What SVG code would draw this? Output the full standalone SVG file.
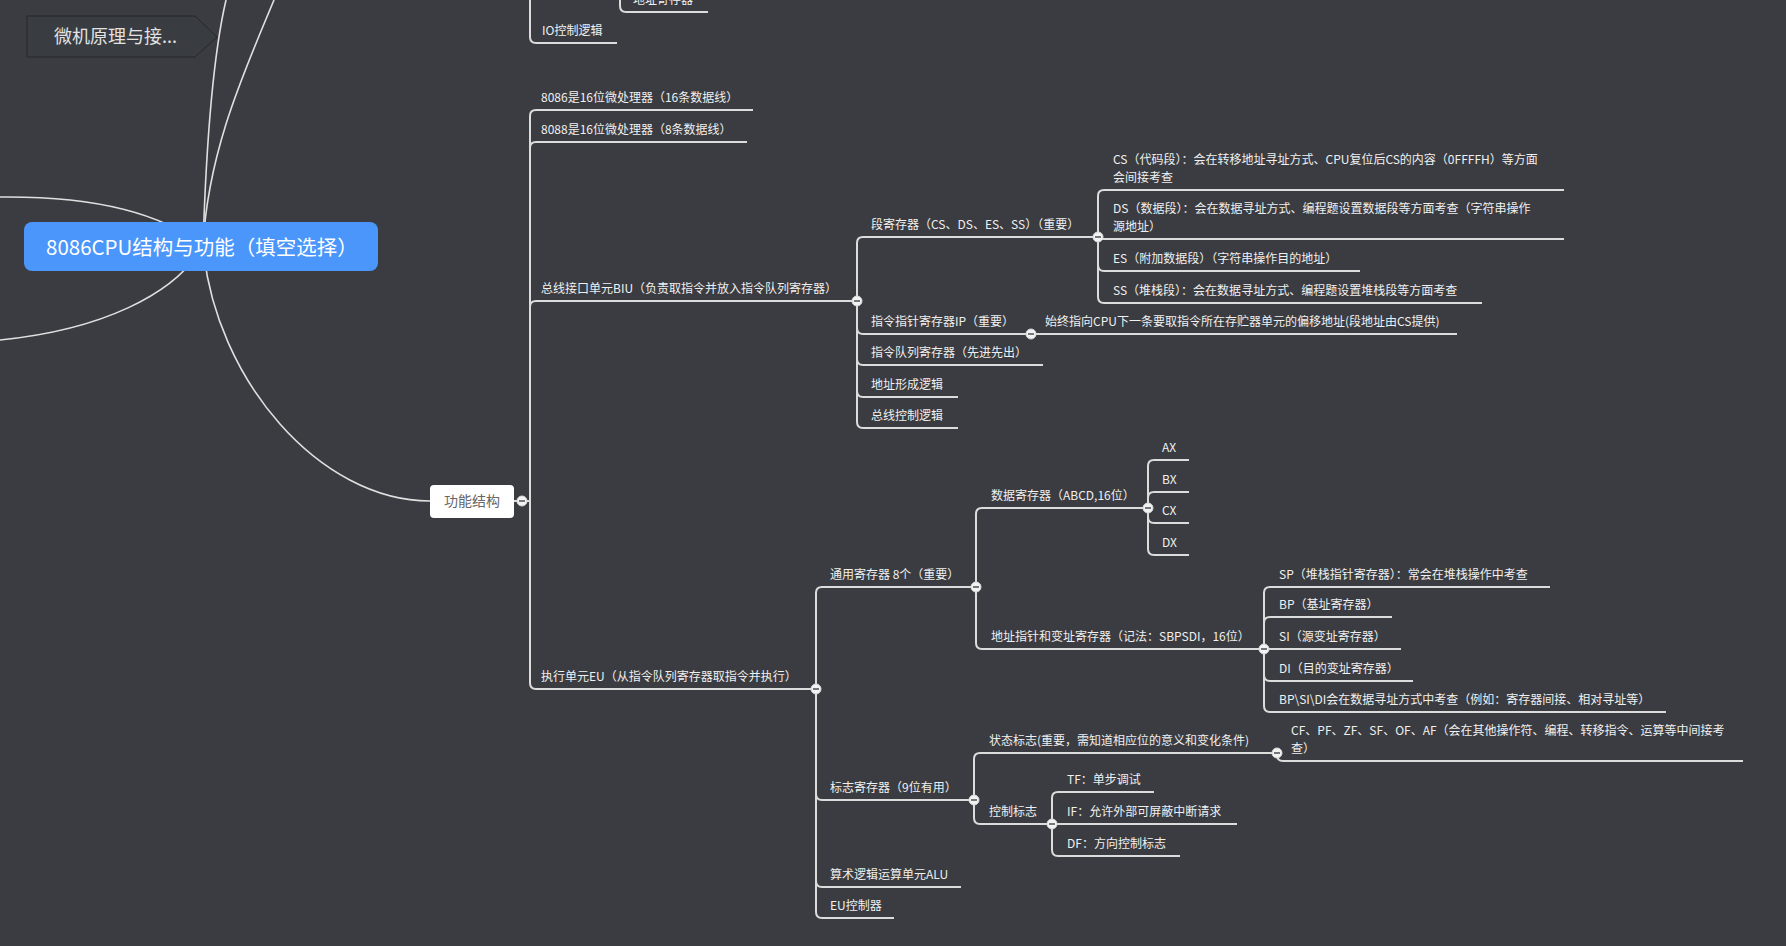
<svg xmlns="http://www.w3.org/2000/svg" xmlns:xlink="http://www.w3.org/1999/xlink" width="1786" height="946" viewBox="0 0 1786 946">
<style>
.ln{fill:none;stroke:#dcdcdc;stroke-width:2;stroke-linecap:butt}
.cv{fill:none;stroke:#e0e0e0;stroke-width:1.6}
.t{font-family:"Noto Sans CJK SC","Noto Sans",sans-serif;font-size:12px;fill:#f0f0f0}
.big{font-family:"Noto Sans CJK SC","Noto Sans",sans-serif;font-size:20.5px;fill:#ffffff}
.top{font-family:"Noto Sans CJK SC","Noto Sans",sans-serif;font-size:18px;fill:#e2e2e2}
.box{font-family:"Noto Sans CJK SC","Noto Sans",sans-serif;font-size:14px;fill:#666666}
</style>
<defs>
<g id="minus"><circle r="5" fill="#f2f2f2" stroke="#d9d9d9" stroke-width="1"/><rect x="-3" y="-0.8" width="6" height="1.6" fill="#55585e"/></g>
</defs>
<rect width="1786" height="946" fill="#3a3c41"/>

<g id="connectors">
<path class="cv" d="M203,246 C206,150 212,60 226,0"/>
<path class="cv" d="M203,246 C208,150 245,70 274,0"/>
<path class="cv" d="M0,197 C90,196 160,212 203,246"/>
<path class="cv" d="M0,340 C100,330 175,295 203,246"/>
<path class="cv" d="M203,246 C215,380 320,501 430,501"/>

<path class="ln" d="M530,0 V37 Q530,43 536,43 H617"/>
<path class="ln" d="M620,0 V6 Q620,12 626,12 H708"/>

<path class="ln" d="M514,501 H530"/>
<path class="ln" d="M530,501 V116 Q530,110 536,110 H753"/>
<path class="ln" d="M530,501 V148 Q530,142 536,142 H747"/>
<path class="ln" d="M530,501 V307 Q530,301 536,301 H857"/>
<path class="ln" d="M530,501 V683 Q530,689 536,689 H816"/>

<path class="ln" d="M857,301 V243 Q857,237 863,237 H1098"/>
<path class="ln" d="M857,301 V328 Q857,334 863,334 H1031"/>
<path class="ln" d="M857,301 V359 Q857,365 863,365 H1043"/>
<path class="ln" d="M857,301 V391 Q857,397 863,397 H958"/>
<path class="ln" d="M857,301 V422 Q857,428 863,428 H958"/>

<path class="ln" d="M1098,237 V196 Q1098,190 1104,190 H1564"/>
<path class="ln" d="M1098,237 V239 H1564"/>
<path class="ln" d="M1098,237 V265 Q1098,271 1104,271 H1360"/>
<path class="ln" d="M1098,237 V297 Q1098,303 1104,303 H1482"/>

<path class="ln" d="M1031,334 H1457"/>

<path class="ln" d="M816,689 V593 Q816,587 822,587 H976"/>
<path class="ln" d="M816,689 V794 Q816,800 822,800 H974"/>
<path class="ln" d="M816,689 V881 Q816,887 822,887 H961"/>
<path class="ln" d="M816,689 V912 Q816,918 822,918 H894"/>

<path class="ln" d="M976,587 V514 Q976,508 982,508 H1148"/>
<path class="ln" d="M976,587 V643 Q976,649 982,649 H1264"/>

<path class="ln" d="M1148,508 V466 Q1148,460 1154,460 H1189"/>
<path class="ln" d="M1148,508 V498 Q1148,492 1154,492 H1189"/>
<path class="ln" d="M1148,508 V517 Q1148,523 1154,523 H1189"/>
<path class="ln" d="M1148,508 V549 Q1148,555 1154,555 H1189"/>

<path class="ln" d="M1264,649 V593 Q1264,587 1270,587 H1550"/>
<path class="ln" d="M1264,649 V623 Q1264,617 1270,617 H1392"/>
<path class="ln" d="M1264,649 H1401"/>
<path class="ln" d="M1264,649 V675 Q1264,681 1270,681 H1413"/>
<path class="ln" d="M1264,649 V706 Q1264,712 1270,712 H1666"/>

<path class="ln" d="M974,800 V759 Q974,753 980,753 H1277"/>
<path class="ln" d="M974,800 V818 Q974,824 980,824 H1052"/>

<path class="ln" d="M1277,753 V755 Q1277,761 1283,761 H1743"/>

<path class="ln" d="M1052,824 V798 Q1052,792 1058,792 H1154"/>
<path class="ln" d="M1052,824 H1237"/>
<path class="ln" d="M1052,824 V850 Q1052,856 1058,856 H1180"/>
</g>

<g id="node-top">
<path d="M27,16 H195 L217,37 L195,57 H27 Z" fill="#393c41" stroke="#25272b" stroke-width="1"/>
<text class="top" x="54" y="43">微机原理与接...</text>
</g>

<g id="node-root">
<rect x="24" y="222" width="354" height="49" rx="8" fill="#4a96fb"/>
<text class="big" x="46" y="255">8086CPU结构与功能（填空选择）</text>
</g>

<g id="node-addrreg"><text class="t" x="633" y="4">地址寄存器</text></g>
<g id="node-io"><text class="t" x="542" y="35">IO控制逻辑</text></g>

<g id="node-func">
<rect x="430" y="485" width="84" height="33" rx="4" fill="#ffffff"/>
<text class="box" x="472" y="506" text-anchor="middle">功能结构</text>
<use xlink:href="#minus" x="522" y="501"/>
</g>

<g id="node-8086"><text class="t" x="541" y="102">8086是16位微处理器（16条数据线）</text></g>
<g id="node-8088"><text class="t" x="541" y="134">8088是16位微处理器（8条数据线）</text></g>
<g id="node-biu"><text class="t" x="541" y="293">总线接口单元BIU（负责取指令并放入指令队列寄存器）</text><use xlink:href="#minus" x="857" y="301"/></g>
<g id="node-eu"><text class="t" x="541" y="681">执行单元EU（从指令队列寄存器取指令并执行）</text><use xlink:href="#minus" x="816" y="689"/></g>

<g id="node-seg"><text class="t" x="871" y="229">段寄存器（CS、DS、ES、SS）（重要）</text><use xlink:href="#minus" x="1098" y="237"/></g>
<g id="node-ip"><text class="t" x="871" y="326">指令指针寄存器IP（重要）</text><use xlink:href="#minus" x="1031" y="334"/></g>
<g id="node-queue"><text class="t" x="871" y="357">指令队列寄存器（先进先出）</text></g>
<g id="node-addr"><text class="t" x="871" y="389">地址形成逻辑</text></g>
<g id="node-bus"><text class="t" x="871" y="420">总线控制逻辑</text></g>

<g id="node-cs"><text class="t" x="1113" y="164">CS（代码段）：会在转移地址寻址方式、CPU复位后CS的内容（0FFFFH）等方面</text><text class="t" x="1113" y="182">会间接考查</text></g>
<g id="node-ds"><text class="t" x="1113" y="213">DS（数据段）：会在数据寻址方式、编程题设置数据段等方面考查（字符串操作</text><text class="t" x="1113" y="231">源地址）</text></g>
<g id="node-es"><text class="t" x="1113" y="263">ES（附加数据段）（字符串操作目的地址）</text></g>
<g id="node-ss"><text class="t" x="1113" y="295">SS（堆栈段）：会在数据寻址方式、编程题设置堆栈段等方面考查</text></g>

<g id="node-ipdesc"><text class="t" x="1045" y="326">始终指向CPU下一条要取指令所在存贮器单元的偏移地址(段地址由CS提供)</text></g>

<g id="node-gen"><text class="t" x="830" y="579">通用寄存器 8个（重要）</text><use xlink:href="#minus" x="976" y="587"/></g>
<g id="node-flag"><text class="t" x="830" y="792">标志寄存器（9位有用）</text><use xlink:href="#minus" x="974" y="800"/></g>
<g id="node-alu"><text class="t" x="830" y="879">算术逻辑运算单元ALU</text></g>
<g id="node-euc"><text class="t" x="830" y="910">EU控制器</text></g>

<g id="node-data"><text class="t" x="991" y="500">数据寄存器（ABCD,16位）</text><use xlink:href="#minus" x="1148" y="508"/></g>
<g id="node-ptr"><text class="t" x="991" y="641">地址指针和变址寄存器（记法：SBPSDI，16位）</text><use xlink:href="#minus" x="1264" y="649"/></g>

<g id="node-ax"><text class="t" x="1162" y="452">AX</text></g>
<g id="node-bx"><text class="t" x="1162" y="484">BX</text></g>
<g id="node-cx"><text class="t" x="1162" y="515">CX</text></g>
<g id="node-dx"><text class="t" x="1162" y="547">DX</text></g>

<g id="node-sp"><text class="t" x="1279" y="579">SP（堆栈指针寄存器）：常会在堆栈操作中考查</text></g>
<g id="node-bp"><text class="t" x="1279" y="609">BP（基址寄存器）</text></g>
<g id="node-si"><text class="t" x="1279" y="641">SI（源变址寄存器）</text></g>
<g id="node-di"><text class="t" x="1279" y="673">DI（目的变址寄存器）</text></g>
<g id="node-bpsidi"><text class="t" x="1279" y="704">BP\SI\DI会在数据寻址方式中考查（例如：寄存器间接、相对寻址等）</text></g>

<g id="node-status"><text class="t" x="989" y="745">状态标志(重要，需知道相应位的意义和变化条件)</text><use xlink:href="#minus" x="1277" y="753"/></g>
<g id="node-ctrl"><text class="t" x="989" y="816">控制标志</text><use xlink:href="#minus" x="1052" y="824"/></g>

<g id="node-cf"><text class="t" x="1291" y="735">CF、PF、ZF、SF、OF、AF（会在其他操作符、编程、转移指令、运算等中间接考</text><text class="t" x="1291" y="753">查）</text></g>

<g id="node-tf"><text class="t" x="1067" y="784">TF：单步调试</text></g>
<g id="node-if"><text class="t" x="1067" y="816">IF：允许外部可屏蔽中断请求</text></g>
<g id="node-df"><text class="t" x="1067" y="848">DF：方向控制标志</text></g>
</svg>
